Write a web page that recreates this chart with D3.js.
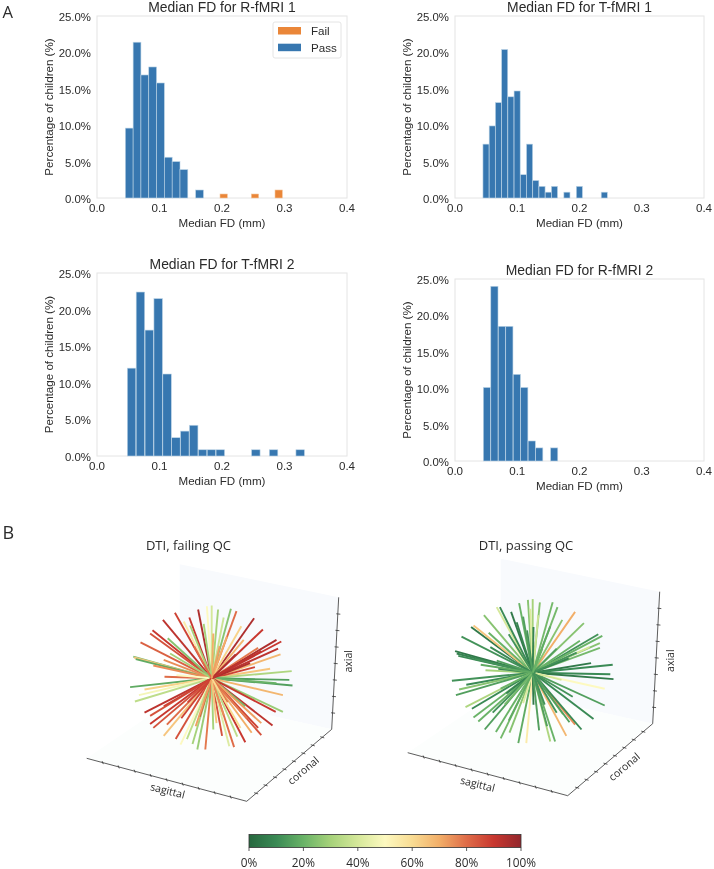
<!DOCTYPE html>
<html><head><meta charset="utf-8">
<script src="https://cdn.jsdelivr.net/npm/d3@7"></script>
<style>html,body{margin:0;padding:0;background:#fff}svg{display:block;filter:blur(0.35px)}</style>
</head><body><svg id="c" width="714" height="869"></svg>
<script>
// histogram data: bin start (mm), percent of children
const r1Pass=[[0.0453,9.6],[0.0578,21.4],[0.0703,16.9],[0.0828,18.0],[0.0953,15.8],[0.1078,5.6],[0.1203,5.0],[0.1328,3.9],[0.1578,1.1]];
const r1Fail=[[0.1968,0.55],[0.2469,0.55],[0.2848,1.1]];
const t1Pass=[[0.0449,7.4],[0.0549,9.9],[0.0649,13.1],[0.0749,20.4],[0.0849,13.9],[0.0949,14.7],[0.1049,3.2],[0.1149,7.4],[0.1249,2.4],[0.1349,1.6],[0.1449,0.8],[0.1549,1.6],[0.1749,0.8],[0.1949,1.6],[0.2349,0.8]];
const t2Pass=[[0.0485,12.0],[0.0627,22.4],[0.0769,17.2],[0.0911,21.5],[0.1053,11.2],[0.1195,2.5],[0.1337,3.4],[0.1479,4.2],[0.1621,0.85],[0.1763,0.85],[0.1905,0.85],[0.2473,0.85],[0.2757,0.85],[0.3183,0.85]];
const r2Pass=[[0.0455,10.1],[0.0575,24.0],[0.0695,18.5],[0.0815,18.5],[0.0935,11.9],[0.1055,10.1],[0.1175,2.75],[0.1295,1.8],[0.1535,1.8]];
const xTicks=[0,0.1,0.2,0.3,0.4];
const yTicks=[0,5,10,15,20,25];
const cbTicks=[0,20,40,60,80,100];
const cmapStops=[0,10,20,30,40,50,60,70,80,90,100];
const cmapColors=["#27683f","#3a8a55","#69b367","#a6d27a","#d5e89a","#fdf9c0","#f9dc93","#f2ae68","#df6c48","#c8372f","#93272d"];
// 3D spokes: projected direction (right, up, in hundredths of the sphere radius) and failing percentage
const failSpokes=[[-6,90,50],[0,91,40],[-17,86,95],[8,86,30],[24,87,25],[31,84,80],[15,76,38],[-46,82,88],[-61,73,92],[53,75,95],[64,61,90],[37,65,62],[-28,76,90],[-35,71,55],[-74,60,90],[-77,56,85],[-55,50,25],[-89,45,82],[81,48,95],[87,46,90],[83,37,92],[86,30,68],[58,38,78],[-98,27,22],[-97,26,65],[-95,24,18],[-73,16,75],[73,12,65],[54,14,88],[100,9,32],[-59,2,80],[97,-2,15],[101,-9,15],[81,-6,20],[-102,-11,18],[89,-21,68],[-84,-14,62],[-91,-21,48],[-96,-29,35],[89,-42,28],[80,-42,90],[76,-59,92],[-84,-43,92],[-77,-47,85],[-77,-57,90],[-73,-62,85],[-60,-72,65],[-56,-58,80],[-45,-76,85],[-39,-83,50],[-31,-76,35],[-24,-82,30],[-18,-89,28],[-8,-89,78],[2,-64,30],[13,-72,85],[22,-85,42],[28,-86,80],[42,-80,90],[32,-73,35],[50,-68,70],[62,-71,85],[58,-62,88],[42,-35,22],[62,-56,72],[40,48,68],[19,52,70],[2,56,70],[-10,68,30],[-27,66,30],[40,23,95],[48,19,95],[-60,23,75],[-44,4,50],[15,-46,75],[-15,-48,85],[6,-56,65],[-52,31,30],[30,30,95],[50,28,92],[-30,-30,88],[20,-30,78],[-38,-50,88],[-20,-60,72],[44,-50,78],[-60,-35,88],[36,-62,60],[62,34,92],[-22,40,80],[10,40,72]];
const passSpokes=[[-6,91,25],[0,92,30],[9,88,25],[25,88,22],[31,82,22],[-45,82,40],[-41,82,10],[-27,76,5],[-17,87,20],[-61,72,25],[53,76,70],[37,66,25],[64,62,25],[-77,57,5],[-74,59,65],[-89,45,12],[-55,50,20],[82,48,12],[87,46,20],[84,37,25],[84,31,22],[71,32,40],[59,40,20],[-97,27,5],[-95,24,8],[-93,21,10],[-72,17,12],[73,12,5],[100,10,10],[-59,3,30],[-43,5,8],[97,-2,10],[101,-8,5],[-101,-10,12],[-83,-15,10],[-92,-21,25],[-96,-28,15],[90,-20,50],[-84,-43,32],[-76,-45,10],[90,-41,15],[76,-58,10],[-74,-56,20],[-68,-61,20],[-60,-71,15],[-46,-74,20],[-40,-82,22],[-29,-75,25],[-18,-88,18],[-8,-88,55],[1,-40,5],[22,-86,32],[28,-86,20],[42,-79,68],[53,-65,75],[61,-71,10],[18,-67,15],[-22,32,50],[-3,80,42],[7,72,38],[1,57,8],[-7,53,12],[-20,63,8],[38,-52,22],[36,-9,40],[-12,-38,42],[46,-62,15],[-33,-26,8],[-53,32,10],[30,30,15],[45,18,8],[-30,-60,18],[15,-40,12],[-40,-20,20],[50,-30,12],[-45,15,15],[22,58,18],[-12,70,15],[-50,-50,12],[-35,-40,22],[8,-72,15],[30,-50,12],[55,25,12],[-30,48,12],[12,30,20],[-65,10,18]];

const svg=d3.select("#c");
const ink="#2b2b2b", sans="'Liberation Sans',Arial,sans-serif", open="'Open Sans',sans-serif";
const blue="#3777b0", orange="#ea8638";

function hist(title,x0,x1,y0,y1,bins,w,fail,fw,legend){
  const x=d3.scaleLinear().domain([0,0.4]).range([x0,x1]);
  const y=d3.scaleLinear().domain([0,25]).range([y1,y0]);
  const g=svg.append("g").attr("font-family",sans).attr("fill",ink);
  const drawBars=(data,width,col)=>g.append("g").selectAll("rect").data(data).join("rect")
    .attr("x",d=>x(d[0])).attr("y",d=>y(d[1])).attr("width",d=>x(d[0]+width)-x(d[0])).attr("height",d=>y(0)-y(d[1]))
    .attr("fill",col).attr("stroke","#bcd4e6").attr("stroke-width",0.6);
  g.append("rect").attr("x",x0).attr("y",y0).attr("width",x1-x0).attr("height",y1-y0).attr("fill","none").attr("stroke","#e4e4e4").attr("stroke-width",1);
  drawBars(bins,w,blue);
  if(fail) drawBars(fail,fw,orange).attr("stroke","#f3c9a2");
  g.append("g").selectAll("text").data(xTicks).join("text").attr("x",d=>x(d)).attr("y",y1+13.5).attr("text-anchor","middle").attr("font-size",11.6).text(d=>d.toFixed(1));
  g.append("g").selectAll("text").data(yTicks).join("text").attr("x",x0-6).attr("y",d=>y(d)+5).attr("text-anchor","end").attr("font-size",11.4).text(d=>d.toFixed(1)+"%");
  g.append("text").attr("x",(x0+x1)/2).attr("y",y1+29).attr("text-anchor","middle").attr("font-size",11.6).text("Median FD (mm)");
  g.append("text").attr("transform",`translate(${x0-44},${(y0+y1)/2}) rotate(-90)`).attr("text-anchor","middle").attr("font-size",11.6).text("Percentage of children (%)");
  g.append("text").attr("x",(x0+x1)/2).attr("y",y0-4.5).attr("text-anchor","middle").attr("font-size",13.9).text(title);
  if(legend){
    const l=g.append("g");
    l.append("rect").attr("x",x1-74).attr("y",y0+6).attr("width",68).attr("height",36).attr("rx",2).attr("fill","#fff").attr("stroke","#e4e4e4");
    legend.forEach((it,i)=>{
      l.append("rect").attr("x",x1-69).attr("y",y0+11+i*16.7).attr("width",23).attr("height",7.5).attr("fill",it[1]);
      l.append("text").attr("x",x1-36).attr("y",y0+19+i*16.7).attr("font-size",11.6).text(it[0]);
    });
  }
}
hist("Median FD for R-fMRI 1",97,347,16,198,r1Pass,0.0125,r1Fail,0.0118,[["Fail",orange],["Pass",blue]]);
hist("Median FD for T-fMRI 1",455,704,16,198,t1Pass,0.0098);
hist("Median FD for T-fMRI 2",97,347,273,456,t2Pass,0.0136);
hist("Median FD for R-fMRI 2",455,704,279,461,r2Pass,0.0116);

const cmap=d3.scaleLinear().domain(cmapStops).range(cmapColors);
const sagTicks=d3.range(1,10), corTicks=d3.range(1,9), axTicks=d3.range(1,8);
function cube(title,titleX,ox,oy,spokes,sagLabel,sagRot,corX,corY,axX,axY){
  const g=svg.append("g").attr("transform",`translate(${ox},${oy})`).attr("font-family",open).attr("fill",ink);
  const poly=p=>p.map(d=>d.join(",")).join(" ");
  g.append("polygon").attr("points",poly([[-32,-114],[127,-81],[120,51],[-32,17]])).attr("fill","#f8fafd");
  g.append("polygon").attr("points",poly([[-32,17],[120,51],[118,51],[35,123],[-125,80]])).attr("fill","#fcfefd");
  const sx=d3.scaleLinear().domain([0,10]).range([-125,35]), sy=d3.scaleLinear().domain([0,10]).range([80,123]);
  const cx=d3.scaleLinear().domain([0,9]).range([35,120]), cy=d3.scaleLinear().domain([0,9]).range([123,51]);
  const ax=d3.scaleLinear().domain([0,8]).range([120,127]), ay=d3.scaleLinear().domain([0,8]).range([51,-81]);
  const line=(a,b)=>g.append("line").attr("x1",a[0]).attr("y1",a[1]).attr("x2",b[0]).attr("y2",b[1]).attr("stroke","#333").attr("stroke-width",0.8);
  line([sx(0),sy(0)],[sx(10),sy(10)]);line([cx(0),cy(0)],[cx(9),cy(9)]);line([ax(0),ay(0)],[ax(8),ay(8)]);
  sagTicks.forEach(t=>line([sx(t)-0.6,sy(t)-1.5],[sx(t)+0.6,sy(t)+1.5]));
  corTicks.forEach(t=>line([cx(t)-2,cy(t)-0.6],[cx(t)+2,cy(t)+0.6]));
  axTicks.forEach(t=>line([ax(t)-1.5,ay(t)],[ax(t)+2.5,ay(t)+0.4]));
  const ux=d3.scaleLinear().domain([-100,100]).range([-80,80]), uy=d3.scaleLinear().domain([-100,100]).range([80,-80]);
  g.append("g").selectAll("line").data(spokes).join("line").attr("x1",0).attr("y1",0)
    .attr("x2",d=>ux(d[0])).attr("y2",d=>uy(d[1])).attr("stroke",d=>cmap(d[2])).attr("stroke-width",1.9);
  g.append("text").attr("transform",`translate(${sagLabel[0]},${sagLabel[1]}) rotate(${sagRot})`).attr("text-anchor","middle").attr("font-size",10.5).text("sagittal");
  g.append("text").attr("transform",`translate(${corX},${corY}) rotate(-40)`).attr("text-anchor","middle").attr("font-size",10.5).text("coronal");
  g.append("text").attr("transform",`translate(${axX},${axY}) rotate(-90)`).attr("text-anchor","middle").attr("font-size",10.5).text("axial");
  svg.append("text").attr("x",titleX).attr("y",549.5).attr("text-anchor","middle").attr("font-family",open).attr("fill",ink).attr("font-size",13).text(title);
}
cube("DTI, failing QC",188.5,211.7,678.3,failSpokes,[-45,116],14,94,95,140,-17);
cube("DTI, passing QC",526,532.7,672.7,passSpokes,[-56,115],14,94,97,141,-12);

svg.append("text").attr("x",2.5).attr("y",18).attr("font-family",open).attr("font-size",16.6).attr("fill",ink).text("A");
svg.append("text").attr("x",2.5).attr("y",539).attr("font-family",open).attr("font-size",18).attr("fill",ink).text("B");

const cb=d3.scaleLinear().domain([0,100]).range([249,521]);
const grad=svg.append("defs").append("linearGradient").attr("id","cbg");
grad.selectAll("stop").data(cmapStops).join("stop").attr("offset",d=>d+"%").attr("stop-color",d=>cmap(d));
svg.append("rect").attr("x",cb(0)).attr("y",834.5).attr("width",cb(100)-cb(0)).attr("height",13).attr("fill","url(#cbg)").attr("stroke","#333").attr("stroke-width",0.8);
const cg=svg.append("g").attr("font-family",open).attr("fill",ink);
cg.selectAll("line").data(cbTicks).join("line").attr("x1",d=>cb(d)).attr("x2",d=>cb(d)).attr("y1",847.5).attr("y2",851).attr("stroke","#333").attr("stroke-width",0.8);
cg.selectAll("text").data(cbTicks).join("text").attr("x",d=>cb(d)).attr("y",867).attr("text-anchor","middle").attr("font-size",11.8).text(d=>d+"%");
</script></body></html>
